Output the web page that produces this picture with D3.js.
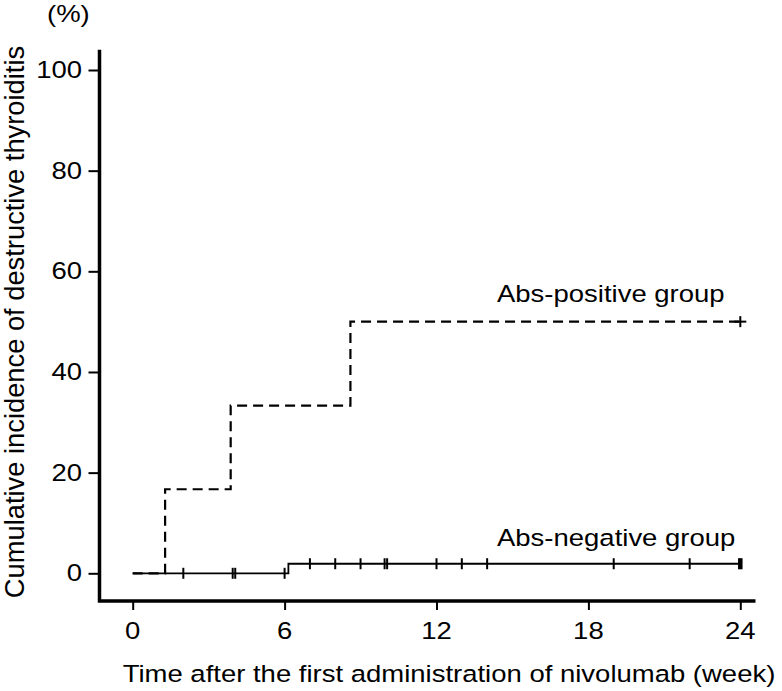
<!DOCTYPE html>
<html>
<head>
<meta charset="utf-8">
<script src="https://cdn.jsdelivr.net/npm/d3@7"></script>
<style>
html,body{margin:0;padding:0;background:#fff;}
svg{display:block;font-family:"Liberation Sans",Arial,Helvetica,sans-serif;}
</style>
</head>
<body>
<svg id="chart" width="782" height="691"></svg>
<script>
// ---- data ----
const xTicks = [0, 6, 12, 18, 24];
const yTicks = [0, 20, 40, 60, 80, 100];
// Abs-positive group: event times (weeks) and cumulative incidence (%)
const posTimes = [0, 1.28, 3.87, 8.6, 24];
const posValues = [0, 16.7, 33.3, 50, 50];
const posCensor = [24];
// Abs-negative group
const negTimes = [0, 6.15, 24];
const negValues = [0, 1.9, 1.9];
const negCensor = [2, 3.95, 4.05, 6, 7, 8, 9, 9.95, 10.05, 12, 13, 14, 19, 22, 23.95, 24, 24.05];
const labels = {pos: "Abs-positive group", neg: "Abs-negative group"};
const xTitle = "Time after the first administration of nivolumab (week)";
const yTitle = "Cumulative incidence of destructive thyroiditis";
const yUnit = "(%)";

// ---- drawing ----
const svg = d3.select("#chart");
const x = d3.scaleLinear().domain([0, 24]).range([132.7, 740.3]);
const y = d3.scaleLinear().domain([0, 100]).range([573.3, 70]);
const FS = 23.5, SX = 1.17;

function hText(g, txt, px, py, anchor) {
  return g.append("text")
    .attr("transform", `translate(${px},${py}) scale(${SX},1)`)
    .attr("text-anchor", anchor || "start")
    .attr("font-size", FS)
    .attr("fill", "#000")
    .text(txt);
}

// axes ticks
const yAxis = d3.axisLeft(y).tickValues(yTicks).tickSizeInner(11).tickSizeOuter(0).tickFormat(d3.format("d"));
const gy = svg.append("g").attr("transform", "translate(99.5,0)").call(yAxis);
gy.select(".domain").remove();
gy.selectAll(".tick line").attr("stroke", "#000").attr("stroke-width", 2);
gy.selectAll(".tick text").remove();
yTicks.forEach(v => hText(svg, String(v), 82, y(v) + 8, "end"));

const xAxis = d3.axisBottom(x).tickValues(xTicks).tickSizeInner(9).tickSizeOuter(0);
const gx = svg.append("g").attr("transform", "translate(0,601)").call(xAxis);
gx.select(".domain").remove();
gx.selectAll(".tick line").attr("stroke", "#000").attr("stroke-width", 2);
gx.selectAll(".tick text").remove();
xTicks.forEach(v => hText(svg, String(v), x(v), 639, "middle"));

// axis lines (L-shape)
svg.append("path")
  .attr("d", `M99.5,${y(104)}V601H${x(24.6)}`)
  .attr("fill", "none").attr("stroke", "#000").attr("stroke-width", 3.5);

// step lines
const line = d3.line().x(d => x(d[0])).y(d => y(d[1])).curve(d3.curveStepAfter);
const posData = posTimes.map((t, i) => [t, posValues[i]]);
const negData = negTimes.map((t, i) => [t, negValues[i]]);

svg.append("path").datum(negData).attr("d", line)
  .attr("fill", "none").attr("stroke", "#000").attr("stroke-width", 1.8);
svg.append("path").datum(posData).attr("d", line)
  .attr("fill", "none").attr("stroke", "#000").attr("stroke-width", 2.2)
  .attr("stroke-dasharray", "10,6");

function valueAt(times, values, t) {
  let v = values[0];
  for (let i = 0; i < times.length; i++) if (times[i] <= t) v = values[i];
  return v;
}
function censorMarks(ts, times, values) {
  svg.append("g").selectAll("line").data(ts).join("line")
    .attr("x1", d => x(d)).attr("x2", d => x(d))
    .attr("y1", d => y(valueAt(times, values, d)) - 5.5)
    .attr("y2", d => y(valueAt(times, values, d)) + 5.5)
    .attr("stroke", "#000").attr("stroke-width", 2);
}
censorMarks(negCensor, negTimes, negValues);
censorMarks(posCensor, posTimes, posValues);
// horizontal bar of the '+' at positive end
svg.append("line").attr("x1", x(24) - 6).attr("x2", x(24) + 6)
  .attr("y1", y(50)).attr("y2", y(50)).attr("stroke", "#000").attr("stroke-width", 2);

// group labels
hText(svg, labels.pos, 497, 302);
hText(svg, labels.neg, 497, 546);

// titles
hText(svg, xTitle, 449, 682, "middle");
hText(svg, yUnit, 47, 22);
svg.append("text")
  .attr("transform", "translate(24,322) rotate(-90)")
  .attr("text-anchor", "middle")
  .attr("font-size", 27.3)
  .attr("fill", "#000")
  .text(yTitle);
</script>
</body>
</html>
